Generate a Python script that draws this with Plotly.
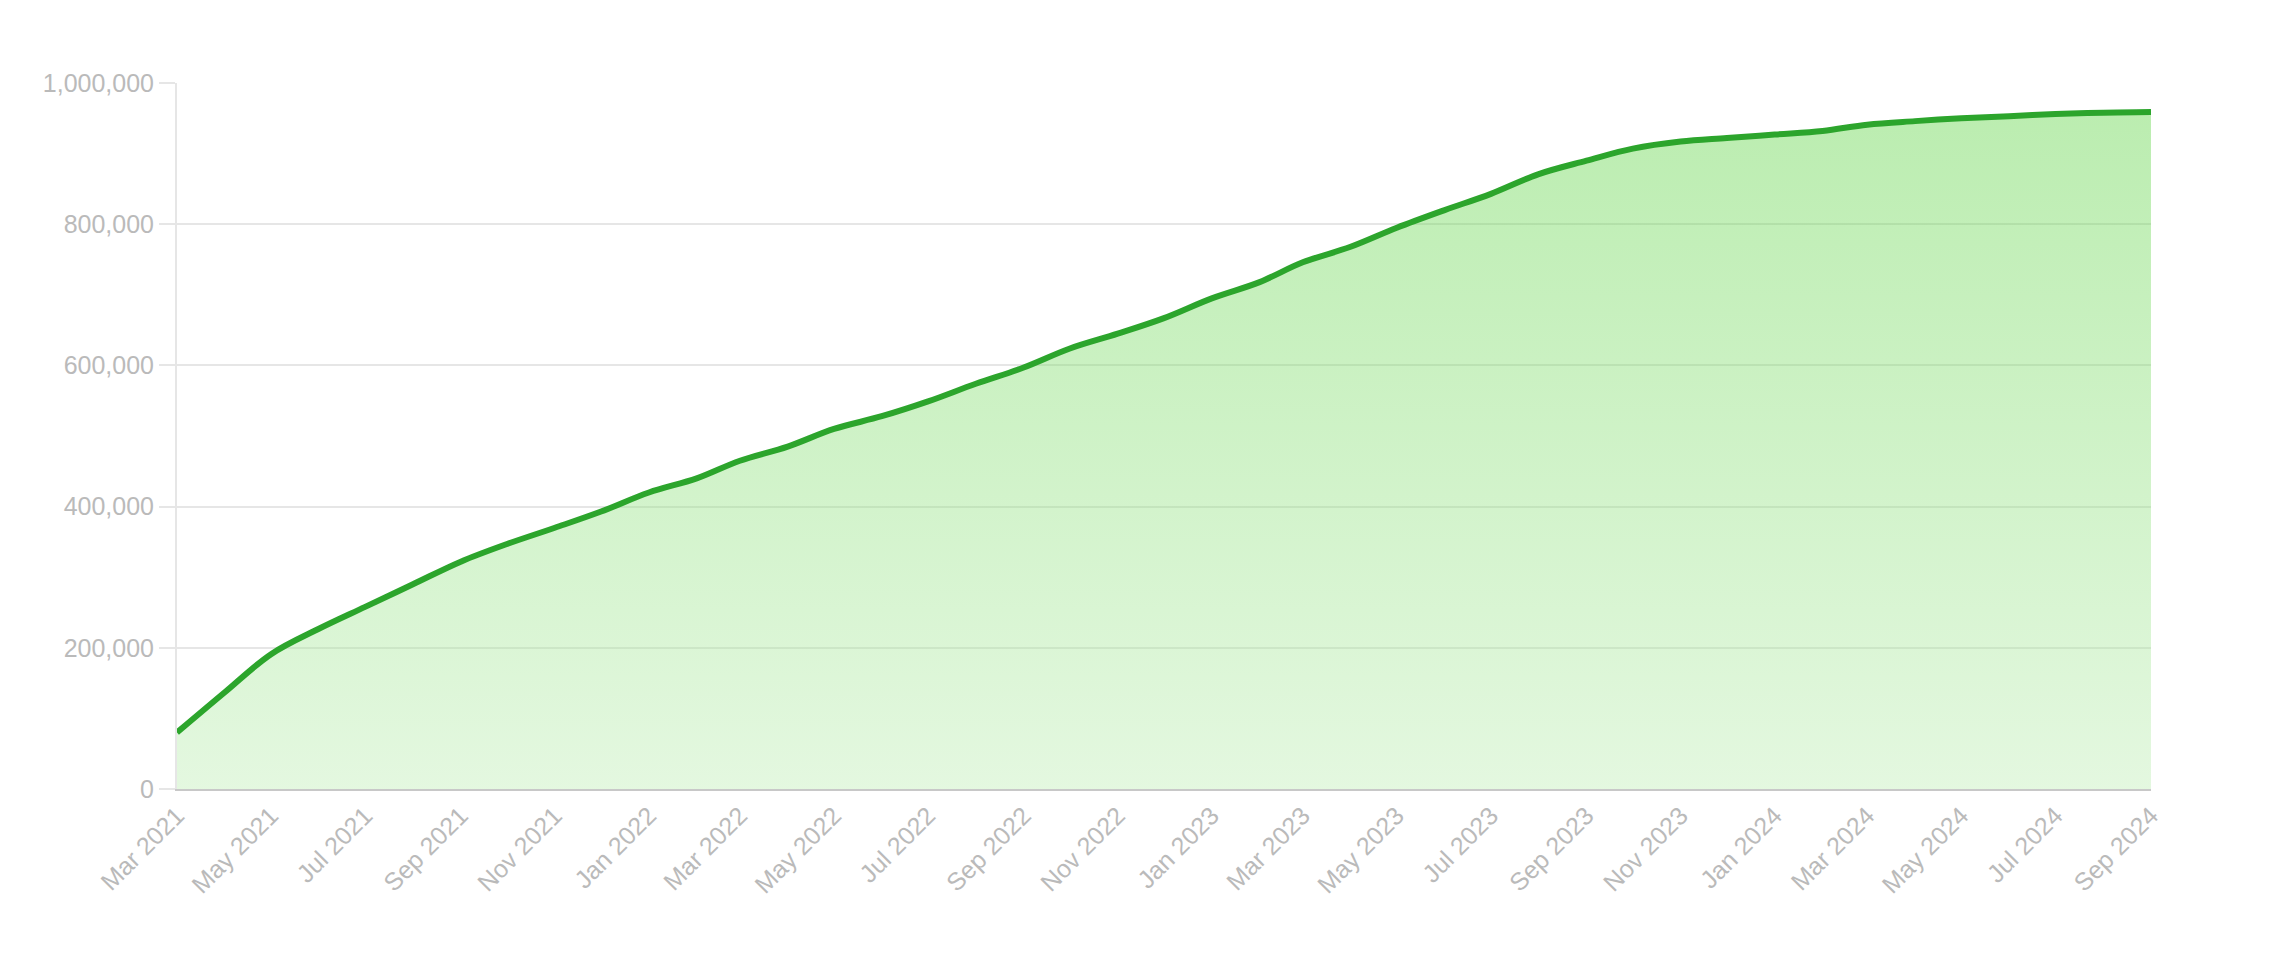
import pandas as pd
import plotly.graph_objects as go

start_month = "2021-03-01"
values = [80000, 137000, 191000, 227000, 258000, 290000, 322000, 347000, 370000, 393000,
          420000, 440000, 465000, 485000, 510000, 528000, 549000, 574000, 597000, 624000, 645000, 667000,
          695000, 718000, 746000, 768000, 795000, 820000, 843000, 871000, 890000, 907000, 917000, 922000,
          927000, 932000, 941000, 946000, 950000, 953000, 956000, 958000, 959000]
months = pd.date_range(start_month, periods=len(values), freq="MS")
y_ticks = [0, 200000, 400000, 600000, 800000, 1000000]

grey_text = "#bababa"
grid = "#e6e6e6"

fig = go.Figure()
fig.add_trace(go.Scatter(
    x=months, y=values, mode="lines",
    line=dict(color="#2ca52c", width=6, shape="spline", smoothing=1.0),
    fill="tozeroy",
    fillgradient=dict(type="vertical",
                      colorscale=[[0, "rgba(187,237,177,0.4)"], [1, "rgba(85,210,57,0.4)"]]),
    hoverinfo="skip", showlegend=False,
))

fig.update_layout(
    width=2280, height=958,
    margin=dict(l=169, r=137, t=75, b=177),
    paper_bgcolor="white", plot_bgcolor="white",
    font=dict(family="Liberation Sans, Arial, sans-serif", size=25, color=grey_text),
)
fig.update_xaxes(
    type="date", range=[months[0], months[-1]],
    dtick="M2", tick0=months[0], tickformat="%b %Y", tickangle=-45,
    showgrid=False, showline=True, linecolor="#c8c8c8", linewidth=2,
    ticks="", tickfont=dict(size=25, color=grey_text),
)
fig.update_yaxes(
    range=[0, 1000000], tickvals=y_ticks, tickformat=",",
    showgrid=True, gridcolor=grid, gridwidth=2, zeroline=False,
    showline=True, linecolor=grid, linewidth=2,
    ticks="outside", ticklen=16, tickcolor=grid, tickwidth=2,
    tickfont=dict(size=25, color=grey_text),
)

fig.write_html("out.html")
